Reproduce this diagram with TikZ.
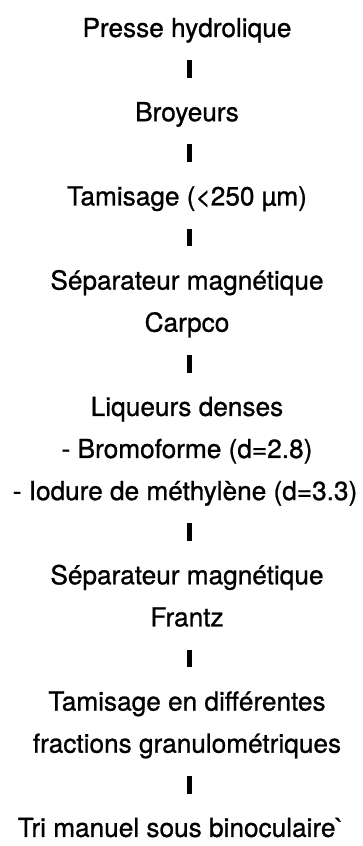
\documentclass[tikz,border=0pt]{standalone}
\usepackage{fontspec}
\setmainfont{TeX Gyre Heros}[Ligatures=TeXOff, FakeBold=0.9]
\tikzset{
  lbl/.style={anchor=base, inner sep=0pt, text height=19pt, text depth=6pt,
    font=\fontsize{26.2}{30}\selectfont},
  bar/.style={line width=5pt, line cap=butt, shorten <=17.1pt, shorten >=24.1pt}
}
\begin{document}
\begin{tikzpicture}[x=1pt,y=1pt]
\useasboundingbox (0,0) rectangle (362,846);
\def\cx{187}
\node[lbl] (n0)  at (\cx, 809-42.1*0)  {Presse hydrolique};
\node[lbl] (n2)  at (\cx, 809-42.1*2)  {Broyeurs};
\node[lbl] (n4)  at (\cx, 809-42.1*4)  {Tamisage (<250 µm)};
\node[lbl] (n6)  at (\cx, 809-42.1*6)  {Séparateur magnétique};
\node[lbl] (n7)  at (\cx, 809-42.1*7)  {Carpco};
\node[lbl] (n9)  at (\cx, 809-42.1*9)  {Liqueurs denses};
\node[lbl] (n10) at (\cx, 809-42.1*10) {- Bromoforme (d=2.8)};
\node[lbl] (n11) at (\cx-2, 809-42.1*11) {- Iodure de méthylène (d=3.3)};
\node[lbl] (n13) at (\cx, 809-42.1*13) {Séparateur magnétique};
\node[lbl] (n14) at (\cx, 809-42.1*14) {Frantz};
\node[lbl] (n16) at (\cx, 809-42.1*16) {Tamisage en différentes};
\node[lbl] (n17) at (\cx, 809-42.1*17) {fractions granulométriques};
\node[lbl] (n19) at (\cx-6, 809-42.1*19) {Tri manuel sous binoculaire\char96};
\foreach \a/\b in {n0/n2, n2/n4, n4/n6, n7/n9, n11/n13, n14/n16, n17/n19}{
  \draw[bar] ([xshift=2pt]\a.south -| n0.south) -- ([xshift=2pt]\b.north -| n0.north);
}
\end{tikzpicture}
\end{document}
